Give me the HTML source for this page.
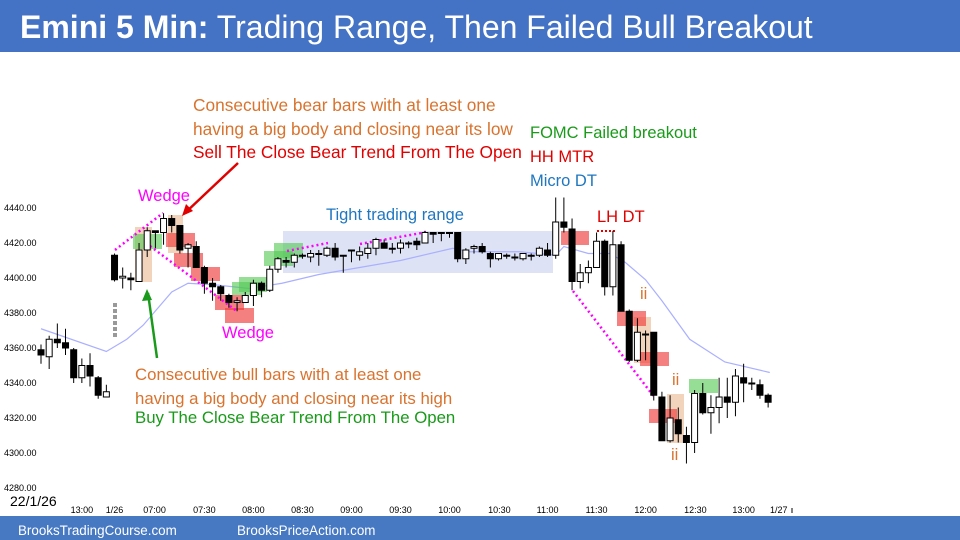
<!DOCTYPE html>
<html><head><meta charset="utf-8"><style>
body{margin:0;width:960px;height:540px;overflow:hidden;background:#fff;font-family:"Liberation Sans",sans-serif}
svg{position:absolute;left:0;top:0}
</style></head><body>
<svg id="c" width="960" height="540" font-family="Liberation Sans, sans-serif">
<rect x="0" y="0" width="960" height="52" fill="#4472c4"/>
<text x="20" y="38" font-size="32" fill="#fff"><tspan font-weight="bold">Emini 5 Min:</tspan> Trading Range, Then Failed Bull Breakout</text>
<rect x="0" y="516" width="960" height="24" fill="#4778c2"/>
<text x="18" y="535" font-size="13.4" fill="#fff">BrooksTradingCourse.com</text>
<text x="237" y="535" font-size="13.4" fill="#fff">BrooksPriceAction.com</text>
<g id="bg"></g><g id="ema"></g><g id="ann"></g><g id="candles"></g><g id="axes"></g>
<g font-size="16.5">
<text x="193" y="111" fill="#d9732e" font-size="17.3">Consecutive bear bars with at least one</text>
<text x="193" y="135" fill="#d9732e" font-size="17.3">having a big body and closing near its low</text>
<text x="193" y="158" fill="#e00000" font-size="17.3">Sell The Close Bear Trend From The Open</text>
<text x="530" y="138" fill="#1a9a1a">FOMC Failed breakout</text>
<text x="530" y="162" fill="#e00000">HH MTR</text>
<text x="530" y="186" fill="#1f77c0">Micro DT</text>
<text x="138" y="201" fill="#ff00ff">Wedge</text>
<text x="222" y="338" fill="#ff00ff">Wedge</text>
<text x="326" y="220" fill="#1f77c0">Tight trading range</text>
<text x="597" y="222" fill="#e00000">LH DT</text>
<text x="135" y="380" fill="#d9732e" font-size="16.8">Consecutive bull bars with at least one</text>
<text x="135" y="404" fill="#d9732e" font-size="16.8">having a big body and closing near its high</text>
<text x="135" y="423" fill="#1a9a1a" font-size="16.8">Buy The Close Bear Trend From The Open</text>
<text x="640" y="299" fill="#d9732e">ii</text>
<text x="672" y="385" fill="#d9732e">ii</text>
<text x="671" y="460" fill="#d9732e">ii</text>
</g>
<text x="10" y="506" font-size="14" fill="#000">22/1/26</text>
</svg>
<script>
const priceTicks=[4440,4420,4400,4380,4360,4340,4320,4300,4280];
const timeLabels=["13:00","1/26","07:00","07:30","08:00","08:30","09:00","09:30","10:00","10:30","11:00","11:30","12:00","12:30","13:00","1/27"];
const timeLabelIdx=[5,9,13.9,20,26,32,38,44,50,56.1,62,68,74,80.1,86,90.3];
const opens=[4359,4355,4365,4363,4359,4343,4350,4343,4332,4413,4400,4400,4398,4416,4427,4426,4434,4430,4417,4418,4406,4397,4395,4390,4386,4386,4390,4397,4393,4405,4410,4409,4413,4412,4414,4413,4417,4413,4416,4413,4414,4417,4420,4417,4417,4420,4421,4420,4426,4426,4426,4426,4411,4417,4418,4414,4411,4413,4412,4411,4413,4413,4416,4413,4432,4428,4398,4403,4406,4421,4395,4419,4381,4353,4368,4369,4332,4307,4319,4310,4306,4334,4323,4326,4332,4329,4343,4340,4339,4333];
const closes=[4356,4365,4363,4360,4343,4350,4344,4333,4335,4399,4401,4399,4416,4427,4426,4434,4430,4416,4419,4406,4397,4395,4391,4386,4387,4390,4397,4393,4405,4411,4409,4413,4413,4414,4414,4417,4412,4413,4416,4415,4417,4422,4417,4417,4420,4420,4419,4426,4425,4426,4426,4411,4416,4418,4415,4411,4414,4413,4412,4414,4413,4417,4413,4432,4429,4398,4403,4406,4421,4395,4419,4381,4353,4369,4368,4333,4307,4320,4311,4306,4334,4323,4326,4332,4329,4344,4340,4340,4333,4329];
const highs=[4362,4367,4374,4371,4360,4354,4357,4344,4339,4414,4406,4403,4420,4429,4427,4437,4436,4430,4420,4421,4407,4400,4396,4391,4389,4392,4399,4398,4407,4412,4412,4414,4414,4416,4416,4418,4420,4413,4416,4418,4420,4423,4422,4420,4422,4421,4423,4427,4426,4426,4426,4426,4417,4419,4420,4415,4414,4414,4414,4414,4414,4418,4420,4446,4446,4434,4408,4410,4426,4422,4427,4421,4382,4377,4370,4369,4335,4333,4326,4315,4336,4340,4333,4343,4343,4348,4351,4343,4342,4334];
const lows=[4351,4348,4360,4356,4340,4340,4338,4331,4332,4398,4394,4393,4398,4412,4417,4419,4426,4414,4406,4406,4391,4387,4387,4383,4381,4386,4384,4389,4392,4403,4406,4406,4411,4409,4407,4412,4410,4403,4409,4410,4411,4413,4417,4414,4414,4417,4416,4420,4420,4421,4423,4409,4408,4414,4414,4406,4410,4411,4410,4410,4410,4412,4412,4411,4426,4393,4394,4397,4406,4390,4390,4381,4352,4352,4353,4330,4307,4306,4306,4294,4300,4322,4311,4317,4320,4321,4329,4336,4331,4326];
const emaIdx=[0,8,10.5,12.5,16,18,21.5,25.5,29.5,34,39,44,50.4,52.5,58.6,63,64,67,69.6,71.5,74,76,79.4,83.7,89.2];
const emaVal=[4371,4358,4365,4373,4392,4397,4396,4394,4397,4402,4406,4410,4417,4415,4415,4413,4418,4414,4414,4409,4399,4387,4365,4352,4346];

const NS="http://www.w3.org/2000/svg";
const xOf=k=>41+k*8.17;
const yOf=p=>208+(4440-p)*1.75;
function mk(tag,attrs,parent){const e=document.createElementNS(NS,tag);for(const a in attrs)e.setAttribute(a,attrs[a]);parent.appendChild(e);return e;}
const axes=document.getElementById('axes');
priceTicks.forEach(p=>{
  const t=mk('text',{x:4,y:yOf(p)+3,'font-size':9,fill:'#000'},axes);
  
  
  t.textContent=p.toFixed(2);
});
timeLabels.forEach((s,i)=>{
  const t=mk('text',{x:xOf(timeLabelIdx[i]),y:513,'font-size':9,fill:'#000','text-anchor':'middle'},axes);
  
  
  t.textContent=s;
});
const tk=mk('line',{x1:792,y1:508,x2:792,y2:513,stroke:'#000'},axes);



const bg=document.getElementById('bg');
const boxes=[
 [283,231,270,42,'#dde3f5','trading-range-box'],
 [135,227,17,55,'#f2d4bd','bull-bars-highlight'],[168,215,15,38,'#f2d4bd','bear-bars-highlight'],
 [634,317,17,46,'#f2d4bd','ii-highlight'],[667,394,17,49,'#f2d4bd','ii-highlight']];
boxes.forEach(b=>{const r=mk('rect',{x:b[0],y:b[1],width:b[2],height:b[3],fill:b[4]},bg);
 
 });
const ann=document.getElementById('ann');
const sig=[
 [133,234,29,15,'g'],[166,233,29,14,'r'],[174,253,29,14,'r'],[191,267,29,14,'r'],[215,295,29,15,'r'],[225,308,29,15,'r'],
 [232,282,30,13,'g'],[239,277,28,15,'g'],[264,251,29,15,'g'],[274,243,29,15,'g'],
 [561,231,28,14,'r'],[617,311,29,15,'r'],[640,352,29,14,'r'],[689,379,29,14,'g'],[649,409,28,14,'r']];
sig.forEach(b=>{const r=mk('rect',{x:b[0],y:b[1],width:b[2],height:b[3],fill:b[4]=='g'?'rgba(80,200,80,0.6)':'rgba(240,60,60,0.65)'},ann);
 
 });
const lines=[
 [115,250,163,213,'#ff00ff','2,3',2.5,'wedge-line'],[150,246,238,312,'#ff00ff','2,3',2.5,'wedge-line'],
 [287,251,328,243,'#ff00ff','2,3',2.5,'range-line'],[360,244,427,232,'#ff00ff','2,3',2.5,'range-line'],
 [573,291,655,398,'#ff00ff','2,3',2.5,'trend-line'],[597,231,615,231,'#e00000','2,2',2,'lh-dt-line'],
 [238,163,185,213,'#e00000','',2.5,'sell-arrow'],[157,358,148,293,'#1a9a1a','',2.5,'buy-arrow']];
lines.forEach(l=>{const e=mk('line',{x1:l[0],y1:l[1],x2:l[2],y2:l[3],stroke:l[4],'stroke-width':l[6]},ann);
 if(l[5])e.setAttribute('stroke-dasharray',l[5]);
 
 });
const ah1=mk('polygon',{points:'182,216 186,204 193,211',fill:'#e00000'},ann);


const ah2=mk('polygon',{points:'147,289 142,301 152,300',fill:'#1a9a1a'},ann);


for(let i=0;i<6;i++){const d=mk('rect',{x:113,y:303+i*6,width:4,height:4,fill:'#999'},ann);
 
 }

const emaG=document.getElementById('ema');
const ep=mk('polyline',{points:emaIdx.map((k,i)=>xOf(k)+','+yOf(emaVal[i])).join(' '),fill:'none',stroke:'#aab0ff','stroke-width':1.2},emaG);



const cg=document.getElementById('candles');
opens.forEach((o,k)=>{
  const c=closes[k],x=xOf(k);
  const g=mk('g',{},cg);
  
  
  mk('line',{x1:x,y1:yOf(highs[k]),x2:x,y2:yOf(lows[k]),stroke:'#000','stroke-width':1},g);
  const top=yOf(Math.max(o,c)),bot=yOf(Math.min(o,c));
  mk('rect',{x:x-3,y:top,width:6,height:Math.max(bot-top,1),fill:c>o?'#fff':'#000',stroke:'#000','stroke-width':1},g);
});
</script>
</body></html>
